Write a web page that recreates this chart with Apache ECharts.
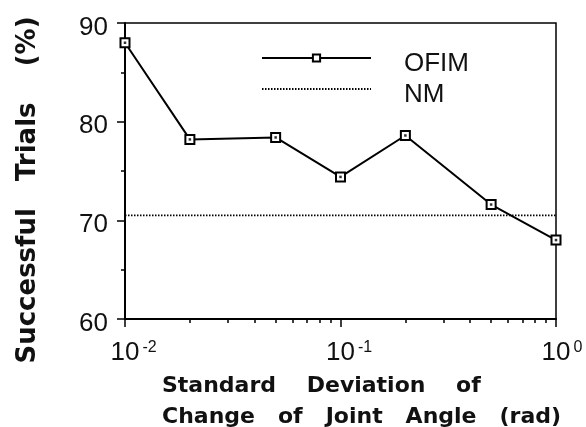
<!DOCTYPE html>
<html>
<head>
<meta charset="utf-8">
<script src="https://cdn.jsdelivr.net/npm/echarts@6/dist/echarts.min.js"></script>
<style>
  html, body { margin: 0; padding: 0; background: #fff; }
  #chart { width: 586px; height: 427px; }
</style>
</head>
<body>
<div id="chart"></div>
<script>
// standard deviation of joint angle change (rad)
const xValues = [0.01, 0.02, 0.05, 0.1, 0.2, 0.5, 1];
const ofimValues = [88.0, 78.2, 78.4, 74.4, 78.6, 71.6, 68.0];
const nmValue = 70.5;

const xMajorTicks = [0.01, 0.1, 1];
const xTickExponents = ["-2", "-1", "0"];
const xMinorTicks = [0.02, 0.03, 0.04, 0.05, 0.06, 0.07, 0.08, 0.09, 0.2, 0.3, 0.4, 0.5, 0.6, 0.7, 0.8, 0.9];
const yTicks = [60, 70, 80, 90];

const labelFont = "Liberation Sans";
const titleFont = "DejaVu Sans";

const chart = echarts.init(document.getElementById("chart"), null, { renderer: "canvas" });

const ofimData = xValues.map((x, i) => [x, ofimValues[i]]);
const nmData = [[xValues[0], nmValue], [xValues[xValues.length - 1], nmValue]];

chart.setOption({
  animation: false,
  backgroundColor: "#fff",
  grid: {
    left: 125,
    top: 23,
    right: 30,
    bottom: 108,
    show: true,
    borderColor: "#000",
    borderWidth: 1.5
  },
  legend: {
    data: ["OFIM", "NM"],
    orient: "vertical",
    left: 256,
    top: 34,
    itemWidth: 109,
    itemHeight: 9,
    itemGap: -7,
    formatter: "{a|{name}}",
    textStyle: {
      fontFamily: labelFont,
      fontSize: 26,
      color: "#111",
      padding: [0, 0, 0, 28],
      rich: {
        a: { fontFamily: labelFont, fontSize: 26, lineHeight: 26, color: "#111", padding: [12, 0, 0, 0] }
      }
    }
  },
  xAxis: [
    {
      type: "log",
      logBase: 10,
      min: 0.01,
      max: 1,
      splitLine: { show: false },
      axisLine: { lineStyle: { color: "#000", width: 2 } },
      axisTick: { length: 8, customValues: xMajorTicks, lineStyle: { color: "#000", width: 1.5 } },
      axisLabel: {
        customValues: xMajorTicks,
        margin: 21,
        formatter: (value) => {
          const idx = xMajorTicks.findIndex((t) => Math.abs(Math.log10(t) - Math.log10(value)) < 1e-6);
          const e = xTickExponents[idx < 0 ? 0 : idx];
          return `{h|${e}}{b|10}{s|${e}}`;
        },
        rich: {
          b: { fontFamily: labelFont, fontSize: 26, lineHeight: 26, color: "#111" },
          s: { fontFamily: labelFont, fontSize: 16, lineHeight: 16, color: "#111", verticalAlign: "top", padding: [0, 0, 0, 3] },
          h: { fontFamily: labelFont, fontSize: 16, lineHeight: 16, color: "transparent", verticalAlign: "top", padding: [0, 3, 0, 0] }
        }
      }
    },
    {
      type: "log",
      logBase: 10,
      min: 0.01,
      max: 1,
      position: "bottom",
      splitLine: { show: false },
      axisLine: { show: false },
      axisLabel: { show: false },
      axisTick: { length: 4, customValues: xMinorTicks, lineStyle: { color: "#000", width: 1.5 } }
    }
  ],
  yAxis: {
    type: "value",
    min: yTicks[0],
    max: yTicks[yTicks.length - 1],
    interval: 10,
    splitLine: { show: false },
    axisLine: { show: true, lineStyle: { color: "#000", width: 2 } },
    axisTick: { show: true, length: 8, lineStyle: { color: "#000", width: 1.5 } },
    minorTick: { show: true, splitNumber: 2, length: 4, lineStyle: { color: "#000", width: 1.5 } },
    axisLabel: {
      margin: 17,
      formatter: "{a|{value}}",
      rich: {
        a: { fontFamily: labelFont, fontSize: 26, lineHeight: 26, color: "#111", padding: [9, 0, 0, 0] }
      }
    }
  },
  graphic: [
    {
      type: "text",
      x: 28,
      y: 190,
      rotation: Math.PI / 2,
      style: {
        text: "Successful   Trials    (%)",
        font: `bold 26px "${titleFont}"`,
        fill: "#111",
        align: "center",
        verticalAlign: "middle"
      }
    },
    {
      type: "text",
      x: 162,
      y: 371,
      style: {
        text: "Standard    Deviation    of\nChange   of   Joint   Angle   (rad)",
        font: `bold 22px "${titleFont}"`,
        lineHeight: 31,
        fill: "#111",
        align: "left",
        verticalAlign: "top"
      }
    }
  ],
  series: [
    {
      name: "OFIM",
      type: "line",
      data: ofimData,
      symbol: "rect",
      symbolSize: 9,
      lineStyle: { color: "#000", width: 2 },
      itemStyle: { color: "#fff", borderColor: "#000", borderWidth: 2 },
      z: 3
    },
    {
      name: "OFIM-dot",
      type: "scatter",
      data: ofimData,
      symbol: "rect",
      symbolSize: 2.5,
      itemStyle: { color: "#000" },
      silent: true,
      z: 4
    },
    {
      name: "NM",
      type: "line",
      data: nmData,
      symbol: "circle",
      showSymbol: false,
      itemStyle: { color: "transparent" },
      lineStyle: { color: "#000", width: 1.8, type: [1.5, 1.5] },
      z: 2
    }
  ]
});
</script>
</body>
</html>
